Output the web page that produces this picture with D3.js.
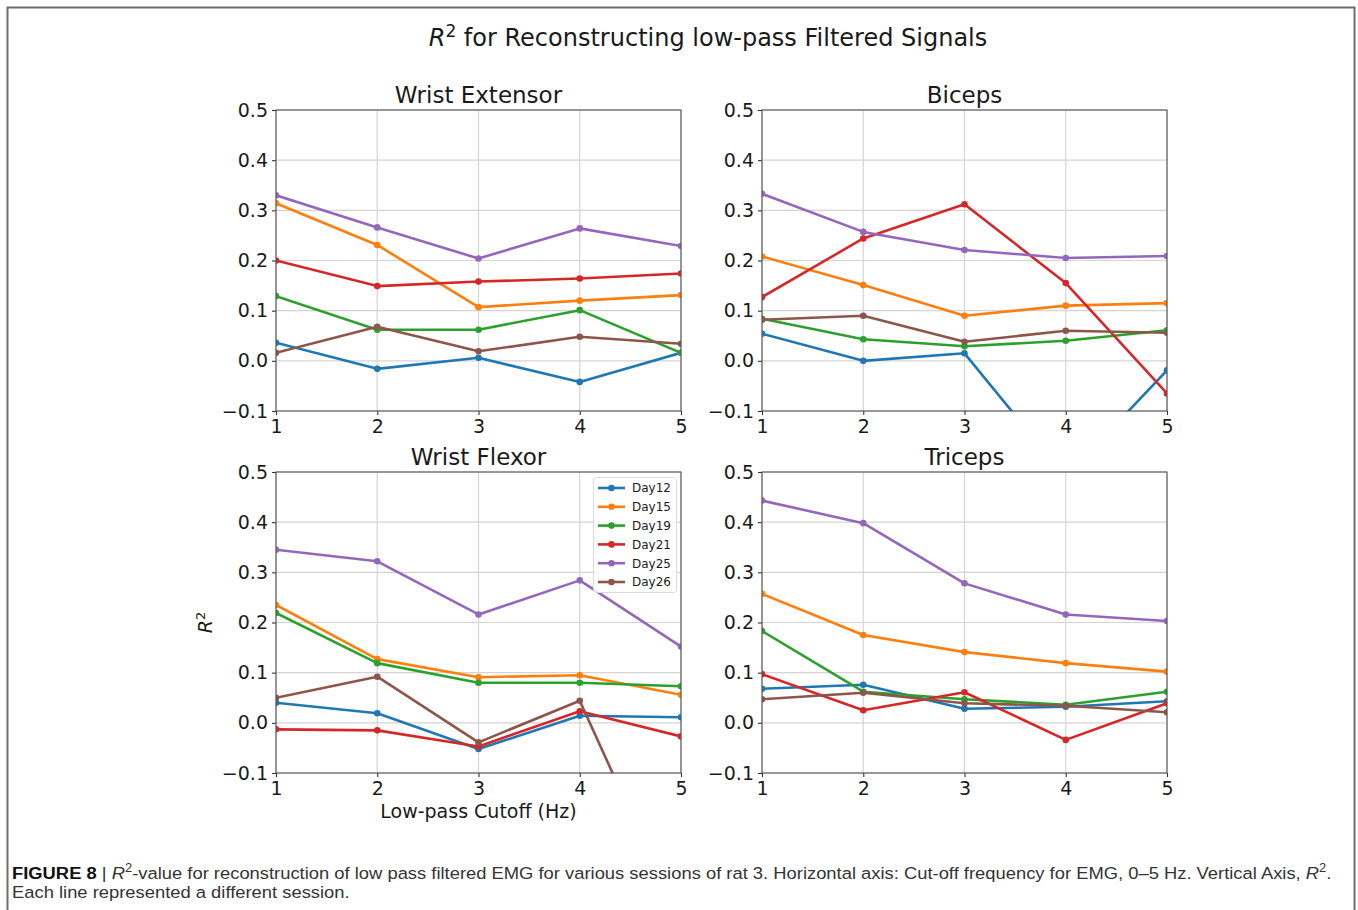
<!DOCTYPE html>
<html>
<head>
<meta charset="utf-8">
<script src="https://cdn.jsdelivr.net/npm/d3@7"></script>
<style>
  html, body { margin: 0; padding: 0; background: #fff; }
  svg { display: block; }
  text { font-family: "DejaVu Sans", sans-serif; fill: #1a1a1a; }
  .caption text, text.caption { font-family: "Liberation Sans", Arial, sans-serif; fill: #333; }
</style>
</head>
<body>
<svg id="fig" width="1358" height="910"></svg>
<script>
// Sessions plotted in every panel, with matplotlib's default colour cycle
const sessions = ["Day12", "Day15", "Day19", "Day21", "Day25", "Day26"];
const sessionColors = ["#1f77b4", "#ff7f0e", "#2ca02c", "#d62728", "#9467bd", "#8c564b"];

// Low-pass cutoff frequencies (Hz)
const cutoffs = [1, 2, 3, 4, 5];
const yTicks = [-0.1, 0.0, 0.1, 0.2, 0.3, 0.4, 0.5];

// R^2 per session (rows follow `sessions`), one value per cutoff
const wristExtensor = [
  [0.036, -0.016, 0.006, -0.042, 0.016],
  [0.314, 0.231, 0.107, 0.120, 0.131],
  [0.129, 0.062, 0.062, 0.101, 0.016],
  [0.200, 0.149, 0.158, 0.164, 0.174],
  [0.330, 0.266, 0.204, 0.264, 0.229],
  [0.016, 0.068, 0.019, 0.048, 0.034]
];
const biceps = [
  [0.054, 0.000, 0.015, -0.232, -0.019],
  [0.208, 0.151, 0.090, 0.110, 0.115],
  [0.084, 0.043, 0.029, 0.040, 0.061],
  [0.127, 0.244, 0.312, 0.155, -0.065],
  [0.333, 0.257, 0.221, 0.205, 0.209],
  [0.082, 0.090, 0.038, 0.060, 0.056]
];
const wristFlexor = [
  [0.040, 0.019, -0.052, 0.014, 0.011],
  [0.235, 0.127, 0.091, 0.095, 0.056],
  [0.219, 0.119, 0.080, 0.080, 0.073],
  [-0.013, -0.015, -0.047, 0.023, -0.027],
  [0.345, 0.322, 0.216, 0.284, 0.152],
  [0.050, 0.092, -0.039, 0.044, -0.400]
];
const triceps = [
  [0.068, 0.076, 0.028, 0.032, 0.043],
  [0.257, 0.175, 0.141, 0.119, 0.102],
  [0.183, 0.062, 0.047, 0.036, 0.062],
  [0.097, 0.025, 0.061, -0.034, 0.039],
  [0.443, 0.398, 0.278, 0.216, 0.203],
  [0.047, 0.060, 0.039, 0.034, 0.021]
];

const panels = [
  { title: "Wrist Extensor", data: wristExtensor, left: 276, top: 110 },
  { title: "Biceps",         data: biceps,        left: 762, top: 110 },
  { title: "Wrist Flexor",   data: wristFlexor,   left: 276, top: 472, legend: true, xlabel: true, ylabel: true },
  { title: "Triceps",        data: triceps,       left: 762, top: 472 }
];
const plotW = 405, plotH = 301;

const svg = d3.select("#fig");
svg.append("rect").attr("width", 1358).attr("height", 910).attr("fill", "#fff");

// Frame around figure and caption
svg.append("path")
  .attr("d", "M7.5,915 V7.5 H1354.5 V915")
  .attr("fill", "none").attr("stroke", "#6e6e6e").attr("stroke-width", 2);

// Figure title with mathtext-style R^2
const sup = svg.append("text").attr("x", 708).attr("y", 46)
  .attr("text-anchor", "middle").style("font-size", "24px");
sup.append("tspan").style("font-style", "italic").text("R");
sup.append("tspan").attr("dy", -9).style("font-size", "17px").text("2");
sup.append("tspan").attr("dy", 9).text(" for Reconstructing low-pass Filtered Signals");

const fmt = v => (v < 0 ? "\u2212" : "") + Math.abs(v).toFixed(1);

panels.forEach((p, i) => {
  const x = d3.scaleLinear().domain([1, 5]).range([p.left, p.left + plotW]);
  const y = d3.scaleLinear().domain([-0.1, 0.5]).range([p.top + plotH, p.top]);
  const g = svg.append("g");

  const clipId = "clip" + i;
  svg.append("clipPath").attr("id", clipId).append("rect")
    .attr("x", p.left).attr("y", p.top).attr("width", plotW).attr("height", plotH);

  // grid
  g.append("g").selectAll("line").data(cutoffs).join("line")
    .attr("x1", d => x(d)).attr("x2", d => x(d))
    .attr("y1", p.top).attr("y2", p.top + plotH)
    .attr("stroke", "#d4d4d4").attr("stroke-width", 1.2);
  g.append("g").selectAll("line").data(yTicks).join("line")
    .attr("x1", p.left).attr("x2", p.left + plotW)
    .attr("y1", d => y(d)).attr("y2", d => y(d))
    .attr("stroke", "#d4d4d4").attr("stroke-width", 1.2);

  // series
  const line = d3.line().x((d, k) => x(cutoffs[k])).y(d => y(d));
  const series = g.append("g").attr("clip-path", `url(#${clipId})`);
  p.data.forEach((vals, s) => {
    series.append("path").datum(vals).attr("d", line)
      .attr("fill", "none").attr("stroke", sessionColors[s])
      .attr("stroke-width", 2.6).attr("stroke-linejoin", "round");
    series.selectAll(null).data(vals).join("circle")
      .attr("cx", (d, k) => x(cutoffs[k])).attr("cy", d => y(d))
      .attr("r", 3.3).attr("fill", sessionColors[s]);
  });

  // axes
  const xAxis = d3.axisBottom(x).tickValues(cutoffs).tickFormat(d3.format("d")).tickSize(4).tickPadding(4);
  const yAxis = d3.axisLeft(y).tickValues(yTicks).tickFormat(fmt).tickSize(4).tickPadding(4);
  const gx = g.append("g").attr("transform", `translate(0,${p.top + plotH})`).call(xAxis);
  const gy = g.append("g").attr("transform", `translate(${p.left},0)`).call(yAxis);
  [gx, gy].forEach(a => {
    a.select(".domain").remove();
    a.selectAll("line").attr("stroke", "#333").attr("stroke-width", 1.1);
    a.selectAll("text").style("font-size", "19px").style("font-family", "DejaVu Sans").attr("fill", "#1a1a1a");
  });
  gx.selectAll("text").attr("dy", "0.72em");

  // spines
  g.append("rect").attr("x", p.left).attr("y", p.top).attr("width", plotW).attr("height", plotH)
    .attr("fill", "none").attr("stroke", "#555").attr("stroke-width", 1.1);

  // panel title
  g.append("text").attr("x", p.left + plotW / 2).attr("y", p.top - 7)
    .attr("text-anchor", "middle").style("font-size", "23px").text(p.title);

  if (p.xlabel) {
    g.append("text").attr("x", p.left + plotW / 2).attr("y", p.top + plotH + 45)
      .attr("text-anchor", "middle").style("font-size", "19px").text("Low-pass Cutoff (Hz)");
  }
  if (p.ylabel) {
    const yl = g.append("text")
      .attr("transform", `translate(${p.left - 64},${p.top + plotH / 2}) rotate(-90)`)
      .attr("text-anchor", "middle").style("font-size", "19px");
    yl.append("tspan").style("font-style", "italic").text("R");
    yl.append("tspan").attr("dy", -7).style("font-size", "13px").text("2");
  }

  if (p.legend) {
    const lg = g.append("g");
    lg.append("rect").attr("x", 593.5).attr("y", 477.5).attr("width", 83).attr("height", 115)
      .attr("rx", 3).attr("fill", "#fff").attr("fill-opacity", 0.85)
      .attr("stroke", "#dcdcdc").attr("stroke-width", 1);
    sessions.forEach((name, s) => {
      const yy = 488 + s * 18.8;
      lg.append("line").attr("x1", 598).attr("x2", 625).attr("y1", yy).attr("y2", yy)
        .attr("stroke", sessionColors[s]).attr("stroke-width", 2.6);
      lg.append("circle").attr("cx", 611.5).attr("cy", yy).attr("r", 3.3).attr("fill", sessionColors[s]);
      lg.append("text").attr("x", 632).attr("y", yy + 4.3).style("font-size", "12px").text(name);
    });
  }
});

// Caption: a condensed sans face, fitted to the frame width
const cap = svg.append("g").attr("class", "caption");
const line1 = cap.append("text").attr("x", 0).attr("y", 0).style("font-size", "17px");
line1.append("tspan").style("font-weight", "bold").attr("fill", "#111").text("FIGURE 8");
line1.append("tspan").text(" | ");
line1.append("tspan").style("font-style", "italic").text("R");
line1.append("tspan").attr("dy", -7).style("font-size", "12px").text("2");
line1.append("tspan").attr("dy", 7).text("-value for reconstruction of low pass filtered EMG for various sessions of rat 3. Horizontal axis: Cut-off frequency for EMG, 0\u20135 Hz. Vertical Axis, ");
line1.append("tspan").style("font-style", "italic").text("R");
line1.append("tspan").attr("dy", -7).style("font-size", "12px").text("2");
line1.append("tspan").attr("dy", 7).text(".");
const w1 = line1.node().getBBox().width;
const sx = (1333 - 12) / w1;
line1.attr("transform", `translate(12,879) scale(${sx},1)`);

cap.append("text").attr("transform", `translate(12,898) scale(${sx},1)`)
  .style("font-size", "17px").text("Each line represented a different session.");
</script>
</body>
</html>
